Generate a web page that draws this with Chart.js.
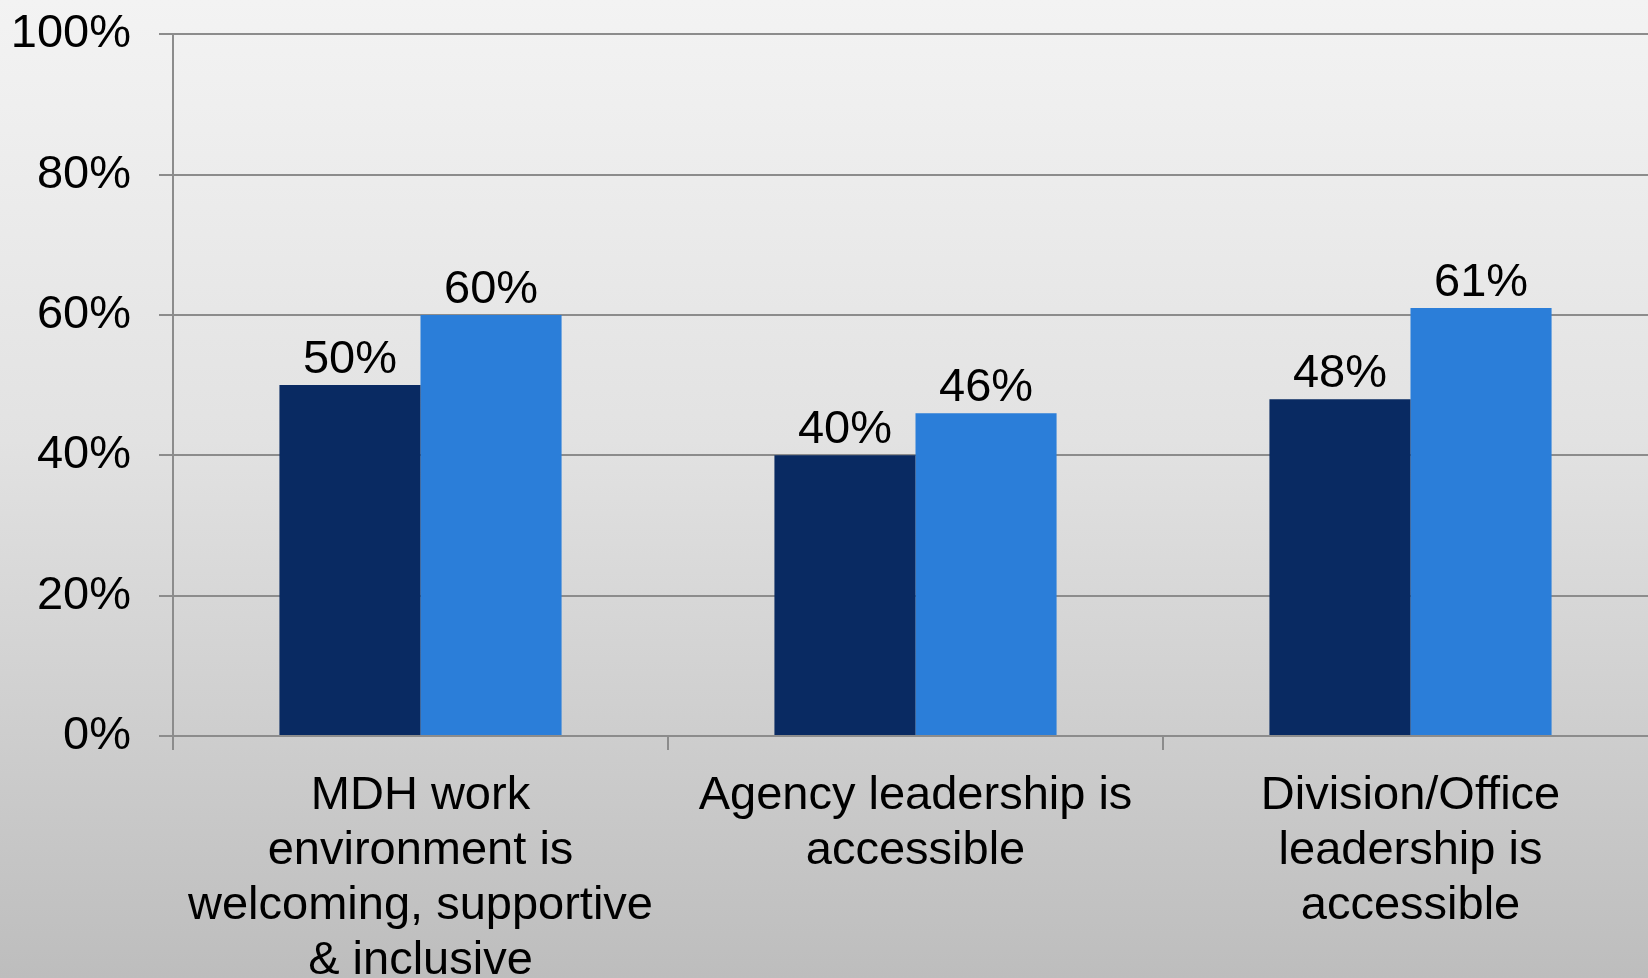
<!DOCTYPE html>
<html>
<head>
<meta charset="utf-8">
<title>Survey results</title>
<script src="https://cdn.jsdelivr.net/npm/chart.js@4/dist/chart.umd.min.js"></script>
<style>
  html, body {
    margin: 0;
    padding: 0;
    width: 1648px;
    height: 978px;
    overflow: hidden;
    background: linear-gradient(to bottom, #f3f3f3 0%, #e2e2e2 45%, #bdbdbd 100%);
  }
  #wrap {
    position: absolute;
    left: 0;
    top: -22px;
    width: 1660px;
    height: 1000px;
  }
</style>
</head>
<body>
<div id="wrap"><canvas id="surveyChart"></canvas></div>
<script>
/* Grouped bars, two survey years per statement */

const categories = [
  ['MDH work', 'environment is', 'welcoming, supportive', '& inclusive'],
  ['Agency leadership is', 'accessible'],
  ['Division/Office', 'leadership is', 'accessible'],
];
const seriesDark  = [50, 40, 48];
const seriesLight = [60, 46, 61];
const yTicks      = [0, 20, 40, 60, 80, 100];

const DARK  = '#092a62';
const LIGHT = '#2b7ed9';
const GRID  = '#8c8c8c';
const FONT  = '"Liberation Sans", Arial, Helvetica, sans-serif';

/* value labels over each bar */
const barLabels = {
  id: 'barLabels',
  afterDatasetsDraw(chart) {
    const ctx = chart.ctx;
    ctx.save();
    ctx.font = `47px ${FONT}`;
    ctx.fillStyle = '#000';
    ctx.textAlign = 'center';
    ctx.textBaseline = 'alphabetic';
    chart.data.datasets.forEach((ds, i) => {
      chart.getDatasetMeta(i).data.forEach((bar, j) => {
        ctx.fillText(ds.data[j] + '%', bar.x, bar.y - 12);
      });
    });
    ctx.restore();
  },
};

const ctx = document.getElementById('surveyChart').getContext('2d');

new Chart(ctx, {
  type: 'bar',
  data: {
    labels: categories,
    datasets: [
      { data: seriesDark,  backgroundColor: DARK,  borderWidth: 0 },
      { data: seriesLight, backgroundColor: LIGHT, borderWidth: 0 },
    ],
  },
  options: {
    responsive: true,
    maintainAspectRatio: false,
    animation: false,
    categoryPercentage: 0.57,
    barPercentage: 1.0,
    layout: { padding: { top: 6, right: 2, left: 0, bottom: 0 } },
    plugins: {
      legend:  { display: false },
      tooltip: { enabled: false },
    },
    scales: {
      x: {
        grid:   { drawOnChartArea: false, drawTicks: true, tickLength: 14,
                  color: GRID, lineWidth: 2 },
        border: { display: true, color: GRID, width: 2 },
        ticks:  { color: '#000', padding: 19, maxRotation: 0, autoSkip: false,
                  font: { family: FONT, size: 47, lineHeight: 1.165 } },
        afterFit: s => { s.height = 242; },
      },
      y: {
        min: 0,
        max: 100,
        afterBuildTicks: s => { s.ticks = yTicks.map(v => ({ value: v })); },
        grid:   { color: GRID, lineWidth: 2, tickLength: 14 },
        border: { display: true, color: GRID, width: 2 },
        ticks:  { color: '#000', padding: 28,
                  font: { family: FONT, size: 47 },
                  callback: v => v + '%' },
        afterFit: s => { s.width = 173; },
      },
    },
  },
  plugins: [barLabels],
});
</script>
</body>
</html>
